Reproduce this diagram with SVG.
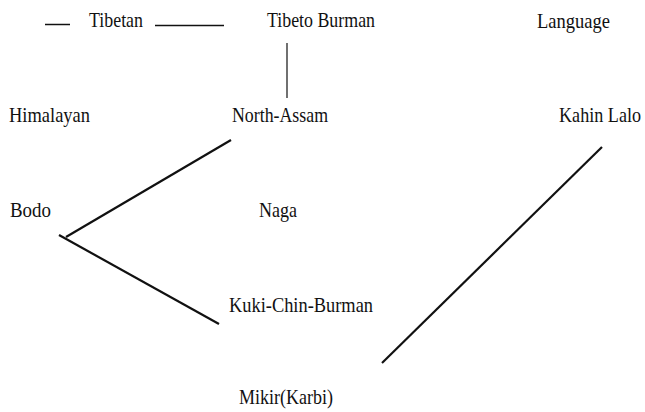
<svg xmlns="http://www.w3.org/2000/svg" width="645" height="412" viewBox="0 0 645 412">
<style>
text{font-family:"Liberation Serif","Times New Roman",serif;font-size:21px;fill:#111}
.c{stroke:#111;fill:none;stroke-linecap:butt}
</style>
<rect width="645" height="412" fill="#fff"/>
<g id="connectors">
<line class="c" x1="45" y1="24.5" x2="70" y2="24.5" stroke-width="1.5"/>
<line class="c" x1="155" y1="25.5" x2="224" y2="25.5" stroke-width="1.5"/>
<line class="c" x1="287" y1="43" x2="287" y2="98" stroke-width="1.2"/>
<line class="c" x1="231" y1="140" x2="66" y2="237" stroke-width="2.2"/>
<line class="c" x1="59" y1="235" x2="219" y2="324" stroke-width="2.2"/>
<line class="c" x1="602" y1="147" x2="382" y2="363" stroke-width="2.2"/>
</g>
<g id="tibetan"><text x="89" y="27" textLength="54" lengthAdjust="spacingAndGlyphs">Tibetan</text></g>
<g id="tibeto-burman"><text x="267" y="27" textLength="108" lengthAdjust="spacingAndGlyphs">Tibeto Burman</text></g>
<g id="language"><text x="537" y="28" textLength="73" lengthAdjust="spacingAndGlyphs">Language</text></g>
<g id="himalayan"><text x="9" y="122" textLength="81" lengthAdjust="spacingAndGlyphs">Himalayan</text></g>
<g id="north-assam"><text x="232" y="122" textLength="96" lengthAdjust="spacingAndGlyphs">North-Assam</text></g>
<g id="kahin-lalo"><text transform="translate(559 122) scale(0.863 1)" x="0" y="0">Kahin Lalo</text></g>
<g id="bodo"><text x="10" y="217" textLength="41" lengthAdjust="spacingAndGlyphs">Bodo</text></g>
<g id="naga"><text x="259" y="217" textLength="38" lengthAdjust="spacingAndGlyphs">Naga</text></g>
<g id="kuki-chin-burman"><text x="229" y="312" textLength="144" lengthAdjust="spacingAndGlyphs">Kuki-Chin-Burman</text></g>
<g id="mikir"><text x="239" y="404" textLength="94" lengthAdjust="spacingAndGlyphs">Mikir(Karbi)</text></g>
</svg>
